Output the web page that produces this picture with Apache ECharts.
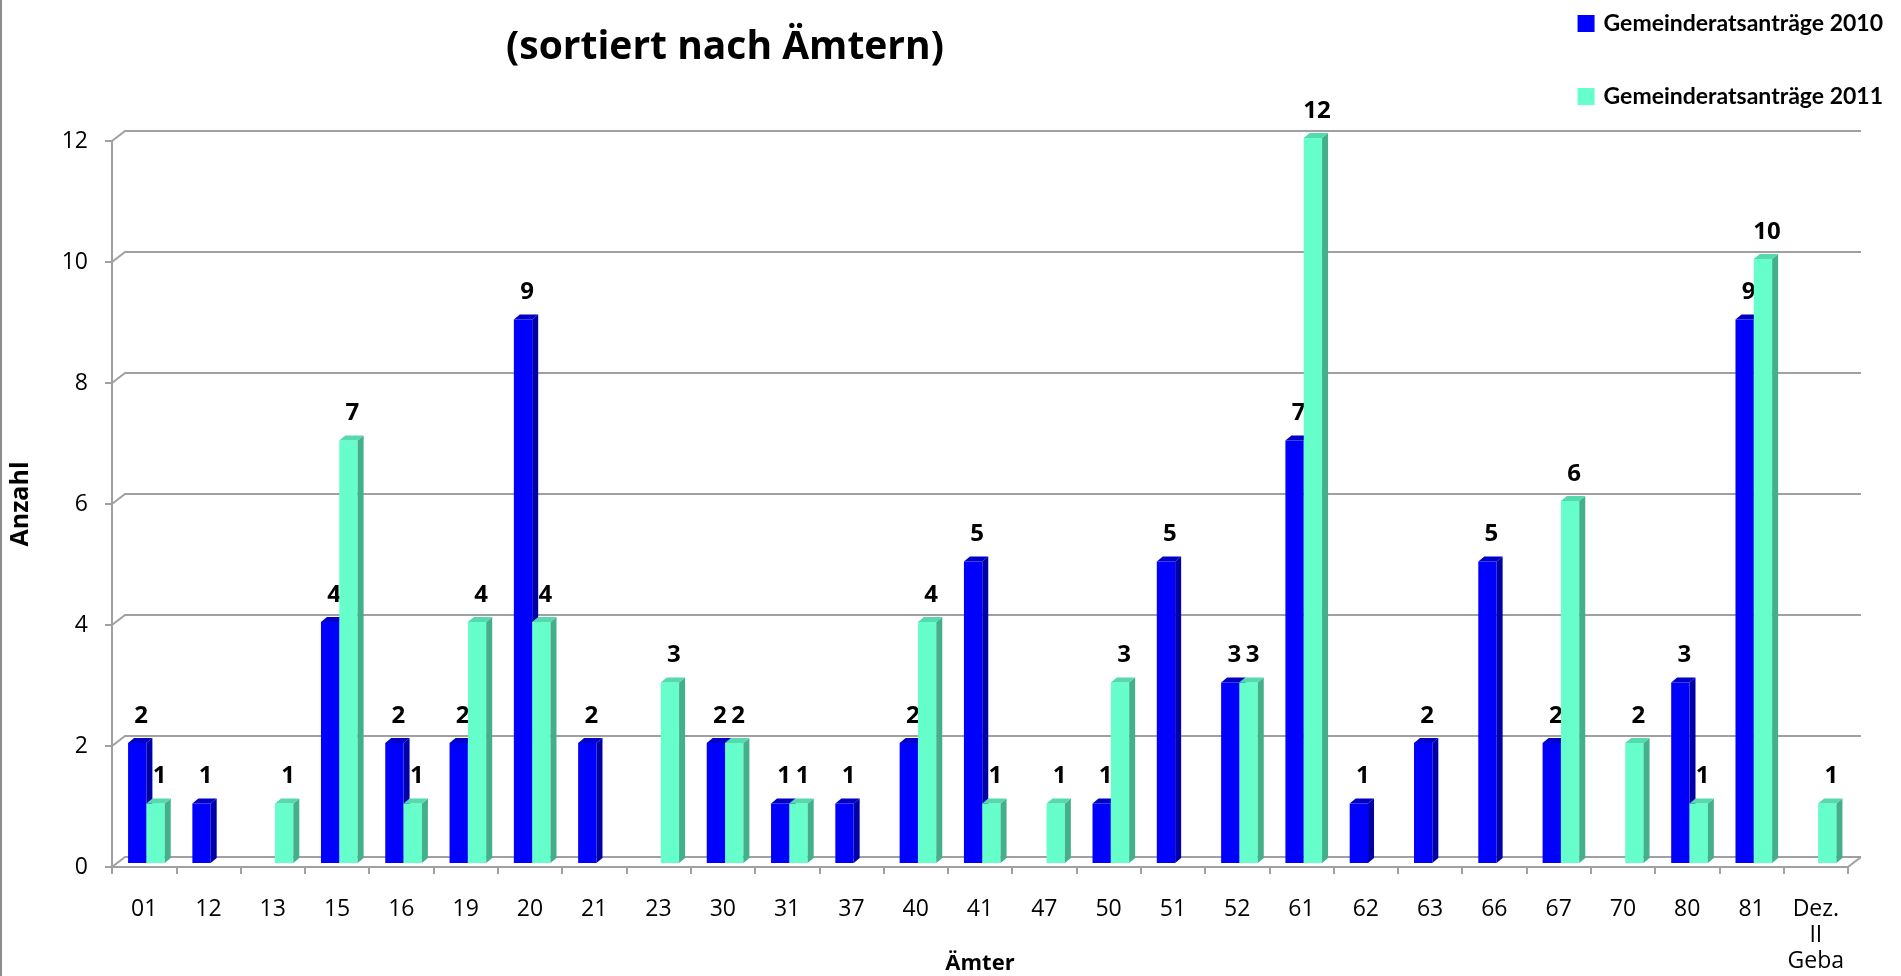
<!DOCTYPE html>
<html>
<head>
<meta charset="utf-8">
<script src="https://cdn.jsdelivr.net/npm/echarts@6/dist/echarts.min.js"></script>
<style>
html,body{margin:0;padding:0;background:#fff;}
#chart{width:1901px;height:976px;}
</style>
</head>
<body>
<div id="chart"></div>
<script>
const categories = ['01','12','13','15','16','19','20','21','23','30','31','37','40','41','47','50','51','52','61','62','63','66','67','70','80','81','Dez.\nII\nGeba'];
const antraege2010 = [2,1,null,4,2,2,9,2,null,2,1,1,2,5,null,1,5,3,7,1,2,5,2,null,3,9,null];
const antraege2011 = [1,null,1,7,1,4,4,null,3,2,1,null,4,1,1,3,null,3,12,null,null,null,6,2,1,10,1];
const yTicks = [0,2,4,6,8,10,12];
const seriesNames = ['Gemeinderatsanträge 2010','Gemeinderatsanträge 2011'];

const FONT = '"Open Sans"';
const GRID_COLOR = '#a0a0a0';
const DX = 13, DY = 10;   // wall depth

function toData(arr){
  const out = [];
  arr.forEach((v,i)=>{ if(v!==null) out.push([i,v]); });
  return out;
}

function barRenderer(offsetFrac, front, side, top){
  return function(params, api){
    const i = api.value(0), v = api.value(1);
    const bw = api.size([1,0])[0];
    const c0 = api.coord([i,0]);
    const c = api.coord([i,v]);
    const w = bw*0.285;
    const left = c0[0] - bw/2 + offsetFrac*bw;
    const bottom = c0[1] - 4;
    const ytop = c[1] - 3;
    const dx = 6, dy = 5;
    return {
      type:'group',
      children:[
        {type:'rect', shape:{x:left, y:ytop, width:w, height:bottom-ytop}, style:{fill:front}},
        {type:'polygon', shape:{points:[[left+w,ytop],[left+w+dx,ytop-dy],[left+w+dx,bottom-dy],[left+w,bottom]]}, style:{fill:side}},
        {type:'polygon', shape:{points:[[left,ytop],[left+dx,ytop-dy],[left+w+dx,ytop-dy],[left+w,ytop]]}, style:{fill:top}},
        {type:'text', style:{text:String(v), x:left+w/2+4, y:ytop-27, textAlign:'center', textVerticalAlign:'middle', font:'bold 24px ' + FONT, fill:'#000'}}
      ]
    };
  };
}

function gridRenderer(params, api){
  const v = api.value(1);
  const bw = api.size([1,0])[0];
  const n = categories.length;
  const xl = api.coord([0,v])[0] - bw/2;
  const xr = api.coord([n-1,v])[0] + bw/2;
  const y = api.coord([0,v])[1];
  const children = [
    {type:'polyline', shape:{points:[[xl,y],[xl+DX,y-DY],[xr+DX,y-DY]]}, style:{stroke:GRID_COLOR, lineWidth:2, fill:null}}
  ];
  if(v===0){
    children.push({type:'line', shape:{x1:xr, y1:y, x2:xr+DX, y2:y-DY}, style:{stroke:GRID_COLOR, lineWidth:2}});
  }
  return {type:'group', children};
}

const chart = echarts.init(document.getElementById('chart'), null, {renderer:'canvas'});
chart.setOption({
  backgroundColor:'#ffffff',
  animation:false,
  textStyle:{fontFamily:'Open Sans'},
  legend:{
    data:seriesNames,
    orient:'vertical',
    right:13,
    top:7,
    itemWidth:17,
    itemHeight:17,
    itemGap:50,
    icon:'rect',
    textStyle:{fontFamily:'Lato', fontWeight:'bold', fontSize:23, color:'#000', padding:[0,0,0,4]}
  },
  graphic:[
    {type:'line', shape:{x1:1, y1:0, x2:1, y2:976}, style:{stroke:'#8c8c8c', lineWidth:2}},
    {type:'text', style:{text:'(sortiert nach Ämtern)', x:725, y:48, textAlign:'center', textVerticalAlign:'middle', font:'bold 39px ' + FONT, fill:'#000'}}
  ],
  grid:{left:112, right:53, top:141, bottom:109, containLabel:false, outerBoundsMode:'none'},
  xAxis:{
    type:'category',
    data:categories,
    boundaryGap:true,
    name:'Ämter',
    nameLocation:'middle',
    nameGap:86,
    nameMoveOverlap:false,
    nameTextStyle:{fontFamily:'Open Sans', fontWeight:'bold', fontSize:22, color:'#000'},
    axisLine:{show:true, lineStyle:{color:GRID_COLOR, width:2}},
    axisTick:{show:true, interval:0, length:7, lineStyle:{color:GRID_COLOR, width:2}},
    axisLabel:{interval:0, fontFamily:'Open Sans', fontSize:23, color:'#000', margin:29, lineHeight:26},
    splitLine:{show:false}
  },
  yAxis:{
    type:'value',
    min:0, max:12, interval:2,
    name:'Anzahl',
    nameLocation:'middle',
    nameRotate:90,
    nameGap:79,
    nameMoveOverlap:false,
    nameTextStyle:{fontFamily:'Open Sans', fontWeight:'bold', fontSize:25, color:'#000'},
    axisLine:{show:true, lineStyle:{color:GRID_COLOR, width:2}},
    axisTick:{show:true, length:7, lineStyle:{color:GRID_COLOR, width:2}},
    axisLabel:{fontFamily:'Open Sans', fontSize:23, color:'#000', margin:24},
    splitLine:{show:false}
  },
  series:[
    {type:'custom', name:'grid', silent:true, z:1, clip:false, renderItem:gridRenderer, data:yTicks.map(v=>[0,v]), encode:{x:0,y:1}},
    {type:'custom', name:seriesNames[0], z:3, clip:false, itemStyle:{color:'#0000ff'},
      renderItem:barRenderer(0.25,'#0000ff','#0000a8','#0000c8'), data:toData(antraege2010), encode:{x:0,y:1}},
    {type:'custom', name:seriesNames[1], z:4, clip:false, itemStyle:{color:'#66ffcc'},
      renderItem:barRenderer(0.535,'#66ffcc','#44b08a','#55d9ae'), data:toData(antraege2011), encode:{x:0,y:1}}
  ]
});
</script>
</body>
</html>
